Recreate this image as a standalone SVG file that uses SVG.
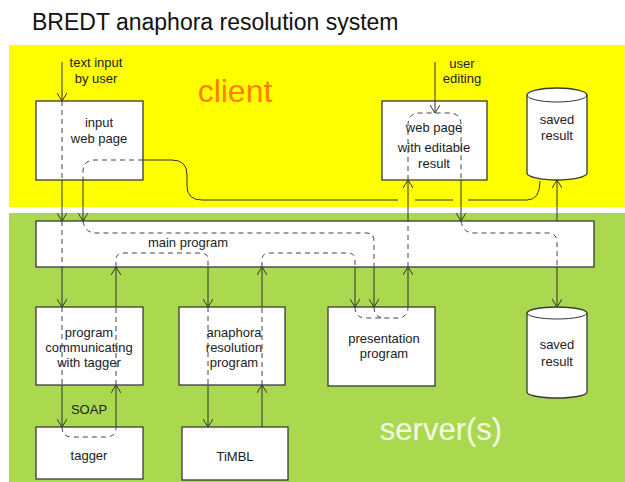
<svg xmlns="http://www.w3.org/2000/svg" width="625" height="482" viewBox="0 0 625 482">
<defs>
<marker id="ah" viewBox="0 0 8 10" refX="8" refY="5" markerWidth="8" markerHeight="10" markerUnits="userSpaceOnUse" orient="auto">
<path d="M0,0 L8,5 L0,10" fill="none" stroke="#333" stroke-width="1"/>
</marker>
</defs>
<style>
text{font-family:"Liberation Sans",Arial,sans-serif;}
.box{fill:#fff;stroke:#3a3a3a;stroke-width:1.3;}
.lbl{font-size:13px;fill:#222;text-anchor:middle;}
.s{fill:none;stroke:#333;stroke-width:1;}
.a{fill:none;stroke:#333;stroke-width:1;marker-end:url(#ah);}
.d{fill:none;stroke:#444;stroke-width:1;stroke-dasharray:5,4;}
</style>
<rect x="0" y="0" width="625" height="482" fill="#fff"/>
<rect x="9" y="45" width="616" height="162" fill="#ffff00"/>
<rect x="9" y="213" width="616" height="269" fill="#aad94f"/>
<text x="32" y="30" font-size="23" fill="#111">BREDT anaphora resolution system</text>
<text x="235" y="102" font-size="32" fill="#ff8000" text-anchor="middle">client</text>
<text x="441" y="440" font-size="31" fill="#f2f9e6" text-anchor="middle">server(s)</text>
<text class="lbl" x="96" y="67">text input</text>
<text class="lbl" x="96" y="83">by user</text>
<text class="lbl" x="462" y="68">user</text>
<text class="lbl" x="462" y="83">editing</text>
<text class="lbl" x="89" y="414">SOAP</text>

<g id="input-web-page">
<rect class="box" x="36" y="101" width="107" height="79"/>
<text class="lbl" x="99" y="127">input</text>
<text class="lbl" x="99" y="143">web page</text>
</g>
<g id="web-page-editable">
<rect class="box" x="382" y="101" width="105" height="79"/>
<text class="lbl" x="434" y="132">web page</text>
<text class="lbl" x="434" y="152">with editable</text>
<text class="lbl" x="434" y="168">result</text>
</g>
<g id="saved-result-client">
<path class="box" d="M527,95 A30,7 0 0 1 587,95 V173 A30,7 0 0 1 527,173 Z"/>
<path class="s" d="M527,95 A30,7 0 0 0 587,95" stroke="#3a3a3a" stroke-width="1.3"/>
<text class="lbl" x="557" y="124">saved</text>
<text class="lbl" x="557" y="140">result</text>
</g>
<g id="main-program">
<rect class="box" x="36" y="221" width="558" height="46" stroke="#555" stroke-width="1.6"/>
<text class="lbl" x="188" y="247">main program</text>
</g>
<g id="program-communicating">
<rect class="box" x="36" y="307" width="107" height="78"/>
<text class="lbl" x="89" y="337">program</text>
<text class="lbl" x="89" y="352">communicating</text>
<text class="lbl" x="89" y="367">with tagger</text>
</g>
<g id="anaphora-resolution">
<rect class="box" x="179" y="307" width="106" height="78"/>
<text class="lbl" x="234" y="337">anaphora</text>
<text class="lbl" x="234" y="352">resolution</text>
<text class="lbl" x="234" y="367">program</text>
</g>
<g id="presentation-program">
<rect class="box" x="328" y="307" width="107" height="79"/>
<text class="lbl" x="384" y="343">presentation</text>
<text class="lbl" x="384" y="358">program</text>
</g>
<g id="saved-result-server">
<path class="box" d="M527,313 A30,6 0 0 1 587,313 V392 A30,6 0 0 1 527,392 Z"/>
<path class="s" d="M527,313 A30,6 0 0 0 587,313" stroke="#3a3a3a" stroke-width="1.3"/>
<text class="lbl" x="557" y="349">saved</text>
<text class="lbl" x="557" y="366">result</text>
</g>
<g id="tagger">
<rect class="box" x="36" y="427" width="107" height="52"/>
<text class="lbl" x="89" y="460">tagger</text>
</g>
<g id="timbl">
<rect class="box" x="182" y="427" width="106" height="53"/>
<text class="lbl" x="235" y="461">TiMBL</text>
</g>

<g id="connectors">
<!-- text input path x=62 -->
<path class="a" d="M62,62 V101"/>
<path class="d" d="M62,101 V180"/>
<path class="a" d="M62,180 V221"/>
<path class="d" d="M62,221 V267"/>
<path class="a" d="M62,267 V307"/>
<path class="d" d="M62,307 V385"/>
<path class="a" d="M62,385 V427"/>
<path class="d" d="M62,427 Q62,437 72,437 H106 Q116,437 116,427"/>
<path class="a" d="M116,427 V385"/>
<path class="d" d="M116,385 V307"/>
<path class="a" d="M116,307 V267"/>
<path class="d" d="M116,267 V260 Q116,253 123,253 H201 Q208,253 208,260 V267"/>
<path class="a" d="M208,267 V307"/>
<path class="d" d="M208,307 V385"/>
<path class="a" d="M208,385 V427"/>
<path class="a" d="M262,427 V385"/>
<path class="d" d="M262,385 V307"/>
<path class="a" d="M262,307 V267"/>
<path class="d" d="M262,267 V260 Q262,253 269,253 H348 Q355,253 355,260 V267"/>
<path class="a" d="M355,267 V307"/>
<path class="d" d="M355,307 Q355,318 366,318 H397 Q408,318 408,307"/>
<path class="d" d="M374,307 Q374,318 385,318"/>
<!-- input web page to presentation -->
<path class="d" d="M143,160 H95 Q83,160 83,172 V180"/>
<path class="a" d="M83,180 V221"/>
<path class="d" d="M83,221 Q85,233 96,233 H366 Q374,233 374,241 V267"/>
<path class="a" d="M374,267 V307"/>
<!-- presentation to web page -->
<path class="a" d="M408,307 V267"/>
<path class="d" d="M408,267 V221"/>
<path class="a" d="M408,221 V180"/>
<path class="d" d="M408,180 V125 Q408,113 420,113 H449 Q461,113 461,125 V180"/>
<path class="a" d="M435,62 V113"/>
<path class="a" d="M461,180 V221"/>
<path class="d" d="M461,221 Q463,233 474,233 H548 Q557,233 557,243 V267"/>
<path class="a" d="M557,267 V307"/>
<path class="a" d="M557,221 V180"/>
<!-- input web page to saved result (client) -->
<path class="s" d="M143,160 H172 Q187,160 187,175 V186 Q187,200 202,200 H398 M415,200 H453 M468,200 H527 Q540,200 540,181"/>
</g>
</svg>
